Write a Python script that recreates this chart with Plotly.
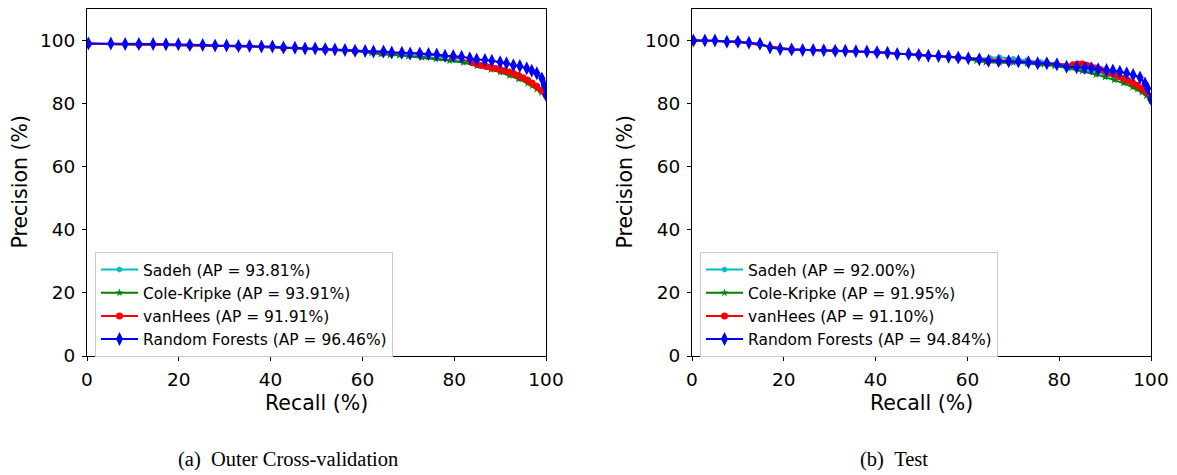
import plotly.graph_objects as go

# ---------------- data: Outer Cross-validation ----------------
cv_rf_recall = [0.3, 5.2, 8.3, 11.3, 14.4, 17.2, 19.9, 22.4, 25.2, 27.9, 30.4, 33.0, 35.4, 38.0,
                40.4, 42.8, 45.3, 47.5, 49.7, 51.9, 54.0, 56.2, 58.4, 60.6, 62.4, 64.6, 66.4,
                68.6, 70.4, 72.5, 74.4, 76.2, 78.0, 79.8, 81.6, 83.4, 84.9, 86.7, 88.2, 90.0,
                91.4, 92.9, 94.3, 95.8, 96.9, 98.0, 99.1, 99.6, 100.0]
cv_rf_prec = [99.1, 99.1, 98.9, 98.9, 98.9, 98.8, 98.8, 98.6, 98.6, 98.4, 98.4, 98.3, 98.3, 98.1,
              98.1, 97.8, 97.7, 97.5, 97.5, 97.3, 97.2, 97.0, 96.8, 96.7, 96.5, 96.5, 96.2,
              96.1, 95.9, 95.9, 95.7, 95.6, 95.2, 95.1, 94.9, 94.4, 94.0, 93.8, 93.6, 93.1,
              92.8, 92.2, 91.9, 91.2, 90.4, 89.6, 88.0, 85.9, 82.7]

cv_sadeh_recall = [0.3, 11.3, 22.4, 33.0, 42.8, 51.9, 58.4, 62.4, 66, 70, 74, 77, 80, 83, 86, 88,
                   90, 92, 94, 96, 97, 98, 99, 100]
cv_sadeh_prec = [99.0, 98.8, 98.5, 98.2, 97.7, 97.2, 96.7, 96.3, 95.9, 95.3, 94.8, 94.3, 93.8,
                 93.2, 92.4, 91.8, 91.0, 90.1, 89.0, 87.7, 86.8, 85.8, 84.5, 82.5]

cv_cole_recall = [0.3, 11.3, 22.4, 33.0, 42.8, 51.9, 58.4, 62, 64, 66, 68, 70, 73, 76, 79, 82, 85,
                  88, 90, 92, 94, 96, 97, 98, 99, 100]
cv_cole_prec = [99.0, 98.8, 98.5, 98.2, 97.7, 97.2, 96.7, 96.0, 95.6, 95.4, 95.3, 95.0, 94.6,
                94.2, 93.6, 93.0, 92.0, 90.8, 89.9, 88.9, 87.8, 86.4, 85.6, 84.6, 83.5, 82.3]

cv_vh_recall = [0.3, 11.3, 22.4, 33.0, 42.8, 51.9, 58.4, 64.6, 72.5, 79.8, 84, 85, 86, 87, 88, 89,
                90, 91, 92, 93, 94, 95, 96, 97, 98, 99, 100]
cv_vh_prec = [99.0, 98.8, 98.5, 98.2, 97.7, 97.2, 96.7, 96.4, 95.8, 94.9, 93.0, 92.5, 92.1,
              91.8, 91.5, 91.1, 90.8, 90.4, 90.0, 89.5, 88.9, 88.2, 87.4, 86.5, 85.4, 84.2, 82.8]

# ---------------- data: Test ----------------
te_rf_recall = [0.3, 2.8, 5.0, 7.6, 10.0, 12.4, 14.8, 17.0, 19.2, 21.7, 24.1, 26.4, 28.7, 31.2,
                33.4, 35.7, 38.1, 40.3, 42.6, 44.7, 47.2, 49.4, 51.5, 53.7, 55.9, 58.0, 60.2,
                62.6, 64.6, 66.8, 69.0, 71.1, 73.3, 75.3, 77.3, 79.5, 81.6, 83.8, 85.6, 87.0,
                88.5, 90.3, 91.7, 93.2, 94.7, 96.1, 97.6, 98.7, 99.3, 100.0]
te_rf_prec = [100.0, 100.0, 100.0, 99.6, 99.6, 99.3, 99.0, 97.8, 97.3, 97.2, 97.0, 97.0, 96.9,
              96.8, 96.8, 96.6, 96.5, 96.3, 96.1, 95.7, 95.7, 95.4, 95.2, 95.1, 94.9, 94.6,
              94.4, 94.1, 93.6, 93.5, 93.4, 93.4, 93.1, 92.8, 92.8, 92.5, 91.7, 91.5, 91.4,
              91.2, 90.9, 90.7, 90.5, 90.1, 89.6, 89.1, 88.3, 86.4, 84.8, 81.5]

te_sadeh_recall = [0.3, 10.0, 21.7, 31.2, 40.3, 49.4, 58.0, 62.6, 65, 67, 70, 73, 76, 79, 82, 85,
                   88, 90, 92, 94, 96, 98, 99, 100]
te_sadeh_prec = [100.0, 99.6, 97.2, 96.8, 96.3, 95.4, 94.6, 94.3, 94.5, 94.7, 94.2, 93.8, 93.2,
                 92.5, 91.6, 90.8, 89.9, 89.2, 88.3, 87.3, 85.9, 84.2, 83.0, 81.0]

te_cole_recall = [0.3, 10.0, 21.7, 31.2, 40.3, 49.4, 58.0, 62, 64, 67, 70, 73, 76, 79, 82, 85, 88,
                  90, 92, 94, 96, 97, 98, 99, 100]
te_cole_prec = [100.0, 99.6, 97.2, 96.8, 96.3, 95.4, 94.6, 93.6, 93.1, 93.0, 93.0, 92.7, 92.4,
                91.9, 91.2, 90.3, 89.2, 88.4, 87.5, 86.5, 85.2, 84.5, 83.6, 82.5, 80.8]

te_vh_recall = [0.3, 10.0, 21.7, 31.2, 40.3, 49.4, 58.0, 69.0, 77.3, 83, 84, 85, 86, 87, 88, 89,
                90, 91, 92, 93, 94, 95, 96, 97, 98, 99, 100]
te_vh_prec = [100.0, 99.6, 97.2, 96.8, 96.3, 95.4, 94.6, 93.4, 92.8, 92.3, 92.6, 92.6, 92.2,
              91.7, 91.3, 90.8, 90.3, 89.8, 89.2, 88.6, 88.0, 87.3, 86.6, 85.8, 84.9, 83.7, 81.5]

cv_names = ["Sadeh (AP = 93.81%)", "Cole-Kripke (AP = 93.91%)",
            "vanHees (AP = 91.91%)", "Random Forests (AP = 96.46%)"]
te_names = ["Sadeh (AP = 92.00%)", "Cole-Kripke (AP = 91.95%)",
            "vanHees (AP = 91.10%)", "Random Forests (AP = 94.84%)"]
captions = ["(a)\u00a0\u00a0Outer Cross-validation", "(b)\u00a0\u00a0Test"]
x_title = "Recall (%)"
y_title = "Precision (%)"

# ---------------- styling ----------------
W, H = 1177, 475
colors = ["#00BFBF", "#008000", "#FF0000", "#0000FF"]
symbols = ["hexagon", "star", "circle", "diamond-tall"]
msizes = [6, 6, 7, 10]
FONT = "DejaVu Sans"

fig = go.Figure()

panels = [
    ([(cv_sadeh_recall, cv_sadeh_prec), (cv_cole_recall, cv_cole_prec),
      (cv_vh_recall, cv_vh_prec), (cv_rf_recall, cv_rf_prec)], cv_names, "x", "y", "legend"),
    ([(te_sadeh_recall, te_sadeh_prec), (te_cole_recall, te_cole_prec),
      (te_vh_recall, te_vh_prec), (te_rf_recall, te_rf_prec)], te_names, "x2", "y2", "legend2"),
]

for series, names, xa, ya, lg in panels:
    for i, ((rx, py), nm) in enumerate(zip(series, names)):
        fig.add_trace(go.Scatter(
            x=rx, y=py, name=nm, mode="lines+markers",
            line=dict(color=colors[i], width=2),
            marker=dict(symbol=symbols[i], size=msizes[i], color=colors[i],
                        line=dict(width=0)),
            xaxis=xa, yaxis=ya, legend=lg, legendgroup=lg + str(i),
        ))

px_left = [87, 692]
px_right = [546, 1151]
top_px, bot_px = 9, 356
ydom = [(H - bot_px) / H, (H - top_px) / H]

axis_common = dict(
    showline=True, linecolor="black", linewidth=1, mirror=True,
    ticks="outside", ticklen=4, tickwidth=1, tickcolor="black",
    showgrid=False, zeroline=False,
    tickfont=dict(family=FONT, size=18.5, color="black"),
    automargin=False,
)

layout = dict(
    width=W, height=H, margin=dict(l=0, r=0, t=0, b=0),
    paper_bgcolor="white", plot_bgcolor="white",
    showlegend=True,
    font=dict(family=FONT, color="black"),
)
for k in range(2):
    sfx = "" if k == 0 else str(k + 1)
    layout["xaxis" + sfx] = dict(
        axis_common, domain=[px_left[k] / W, px_right[k] / W], range=[0, 100],
        tickvals=[0, 20, 40, 60, 80, 100], anchor="y" + sfx, ticklabelstandoff=3)
    layout["yaxis" + sfx] = dict(
        axis_common, domain=ydom, range=[0, 110],
        tickvals=[0, 20, 40, 60, 80, 100], anchor="x" + sfx, ticklabelstandoff=3)
    lg = "legend" if k == 0 else "legend2"
    layout[lg] = dict(
        x=(px_left[k] + 8) / W, y=(H - 252) / H, xanchor="left", yanchor="top",
        bgcolor="white", bordercolor="#cccccc", borderwidth=1,
        font=dict(family=FONT, size=15.5, color="black"),
        tracegroupgap=0, itemwidth=37,
    )

fig.update_layout(**layout)

for k in range(2):
    cx = (px_left[k] + px_right[k]) / 2
    fig.add_annotation(text=x_title, x=cx / W, y=(H - 403) / H, xref="paper", yref="paper",
                       showarrow=False, xanchor="center", yanchor="middle",
                       font=dict(family=FONT, size=20.5, color="black"))
    fig.add_annotation(text=y_title, x=(px_left[k] - 68) / W, y=(H - (top_px + bot_px) / 2) / H,
                       xref="paper", yref="paper", textangle=-90,
                       showarrow=False, xanchor="center", yanchor="middle",
                       font=dict(family=FONT, size=20.5, color="black"))
    fig.add_annotation(text=captions[k], x=[288, 894][k] / W, y=(H - 459) / H,
                       xref="paper", yref="paper", showarrow=False,
                       xanchor="center", yanchor="middle",
                       font=dict(family="Liberation Serif", size=20.5, color="black"))

fig.write_html("out.html", config={"displayModeBar": False},
               post_script="document.body.style.margin='0';document.body.style.overflow='hidden';")
